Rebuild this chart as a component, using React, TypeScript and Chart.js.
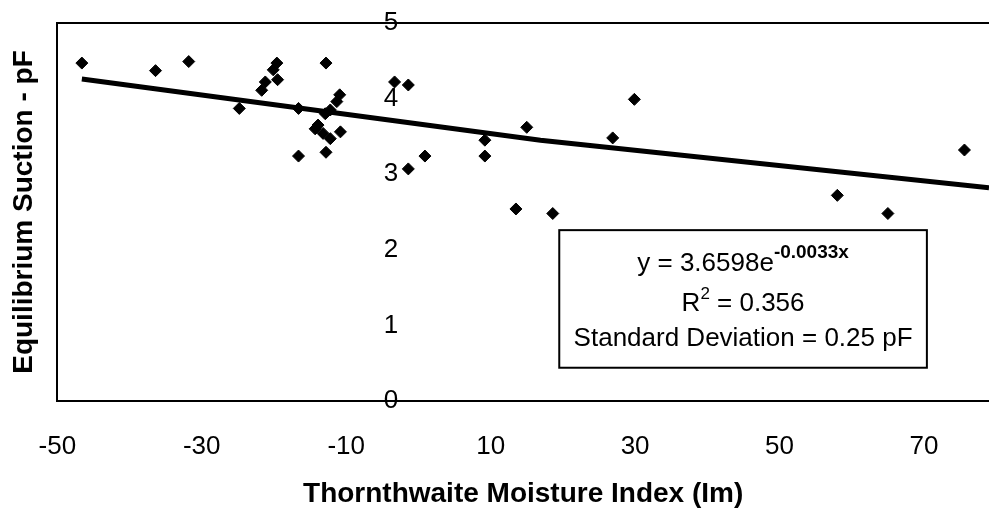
import React, { useEffect, useRef } from "react";
import { Chart, registerables } from "chart.js";

Chart.register(...registerables);

// ---- data ----
const imValues = [
  -46.6, -36.4, -31.8, -24.8, -19.6, -20.1, -19.5, -21.2, -21.7, -16.6, -16.6,
  -12.8, -10.9, -11.3, -12.2, -12.9, -13.9, -14.3, -13.2, -12.2, -10.8, -12.8,
  -3.3, -1.4, -1.4, 0.9, 9.2, 9.2, 15.0, 13.5, 18.6, 26.9, 29.9, 58.0, 65.0, 75.6,
];
const suctionValues = [
  4.47, 4.37, 4.49, 3.87, 4.47, 4.38, 4.25, 4.22, 4.11, 3.87, 3.24,
  4.47, 4.05, 3.96, 3.85, 3.8, 3.65, 3.6, 3.54, 3.47, 3.56, 3.29,
  4.22, 4.18, 3.07, 3.24, 3.45, 3.24, 3.62, 2.54, 2.48, 3.48, 3.99, 2.72, 2.48, 3.32,
];
const trendIm = [-46.6, 16.9, 79];
const trendSuction = [4.26, 3.45, 2.82];

const xTickValues = [-50, -30, -10, 10, 30, 50, 70];
const xMin = -50;
const xMax = 79;
const yMin = 0;
const yMax = 5;

const xTitle = "Thornthwaite Moisture Index (Im)";
const yTitle = "Equilibrium Suction - pF";
const eqMain = "y = 3.6598e";
const eqExp = "-0.0033x";
const r2Main = "R";
const r2Sup = "2";
const r2Rest = " = 0.356";
const sdText = "Standard Deviation = 0.25 pF";

const FONT = "'Liberation Sans', Arial, sans-serif";

const framePlugin = {
  id: "frameTop",
  afterDraw(chart: any) {
    const { ctx, chartArea } = chart;
    ctx.save();
    ctx.strokeStyle = "#000";
    ctx.lineWidth = 2;
    ctx.beginPath();
    ctx.moveTo(chartArea.left, chartArea.top);
    ctx.lineTo(chartArea.right, chartArea.top);
    ctx.stroke();
    ctx.restore();
  },
};

const boxPlugin = {
  id: "eqBox",
  afterDraw(chart: any) {
    const { ctx } = chart;
    const xs = chart.scales.x;
    const ys = chart.scales.y;
    const left = xs.getPixelForValue(19.5);
    const right = xs.getPixelForValue(70.4);
    const top = ys.getPixelForValue(2.26);
    const bottom = ys.getPixelForValue(0.44);
    const cx = (left + right) / 2;
    ctx.save();
    ctx.fillStyle = "#fff";
    ctx.fillRect(left, top, right - left, bottom - top);
    ctx.strokeStyle = "#000";
    ctx.lineWidth = 2;
    ctx.strokeRect(left, top, right - left, bottom - top);
    ctx.fillStyle = "#000";
    ctx.textBaseline = "middle";
    ctx.textAlign = "left";
    const main = `26px ${FONT}`;
    const sup = `bold 19px ${FONT}`;
    const supSmall = `17px ${FONT}`;

    ctx.font = main;
    const w1 = ctx.measureText(eqMain).width;
    ctx.font = sup;
    const w1s = ctx.measureText(eqExp).width;
    let x0 = cx - (w1 + w1s) / 2;
    const y1 = top + 34;
    ctx.font = main;
    ctx.fillText(eqMain, x0, y1);
    ctx.font = sup;
    ctx.fillText(eqExp, x0 + w1, y1 - 11);

    ctx.font = main;
    const wR = ctx.measureText(r2Main).width;
    const wRest = ctx.measureText(r2Rest).width;
    ctx.font = supSmall;
    const w2s = ctx.measureText(r2Sup).width;
    x0 = cx - (wR + w2s + wRest) / 2;
    const y2 = top + 74;
    ctx.font = main;
    ctx.fillText(r2Main, x0, y2);
    ctx.font = supSmall;
    ctx.fillText(r2Sup, x0 + wR, y2 - 10);
    ctx.font = main;
    ctx.fillText(r2Rest, x0 + wR + w2s, y2);

    ctx.textAlign = "center";
    ctx.fillText(sdText, cx, top + 109);
    ctx.restore();
  },
};

export default function App() {
  const ref = useRef<HTMLCanvasElement | null>(null);

  useEffect(() => {
    if (!ref.current) return;
    const points = imValues.map((x, i) => ({ x, y: suctionValues[i] }));
    const trend = trendIm.map((x, i) => ({ x, y: trendSuction[i] }));
    const chart = new Chart(ref.current, {
      type: "scatter",
      data: {
        datasets: [
          {
            label: "Trend",
            data: trend,
            showLine: true,
            borderColor: "#000",
            borderWidth: 5,
            pointRadius: 0,
            fill: false,
          },
          {
            label: "Suction",
            data: points,
            pointStyle: "rectRot",
            pointRadius: 6,
            backgroundColor: "#000",
            borderColor: "#000",
            borderWidth: 1,
          },
        ],
      },
      options: {
        animation: false,
        responsive: false,
        layout: { autoPadding: false, padding: { left: 0, top: 23, right: 0, bottom: 0 } },
        plugins: { legend: { display: false }, tooltip: { enabled: false } },
        scales: {
          x: {
            type: "linear",
            position: "bottom",
            min: xMin,
            max: xMax,
            grid: { display: false, drawTicks: false },
            border: { display: true, color: "#000", width: 2 },
            afterBuildTicks: (scale: any) => {
              scale.ticks = xTickValues.map((v) => ({ value: v }));
            },
            ticks: {
              autoSkip: false,
              maxRotation: 0,
              padding: 30.4,
              color: "#000",
              font: { family: FONT, size: 26 },
            },
            title: {
              display: true,
              text: xTitle,
              color: "#000",
              font: { family: FONT, size: 28, weight: "bold", lineHeight: 1 },
              padding: { top: -13, bottom: 0 },
            },
          },
          y: {
            type: "linear",
            position: "left",
            min: yMin,
            max: yMax,
            grid: { display: false, drawTicks: false },
            border: { display: true, color: "#000", width: 2 },
            ticks: { display: false },
            title: {
              display: true,
              text: yTitle,
              color: "#000",
              font: { family: FONT, size: 28, weight: "bold", lineHeight: 1 },
              padding: { top: 10, bottom: 19.3 },
            },
          },
          yLab: {
            type: "linear",
            axis: "y",
            position: { x: -2.8 },
            min: yMin,
            max: yMax,
            grid: { display: false, drawTicks: false },
            border: { display: false },
            ticks: {
              stepSize: 1,
              padding: 0,
              color: "#000",
              font: { family: FONT, size: 26 },
            },
          },
        },
      } as any,
      plugins: [framePlugin, boxPlugin],
    });
    return () => chart.destroy();
  }, []);

  return (
    <div style={{ position: "fixed", left: 0, top: 0, width: 989, height: 508, background: "#fff" }}>
      <canvas ref={ref} width={989} height={508} style={{ display: "block" }} />
    </div>
  );
}
